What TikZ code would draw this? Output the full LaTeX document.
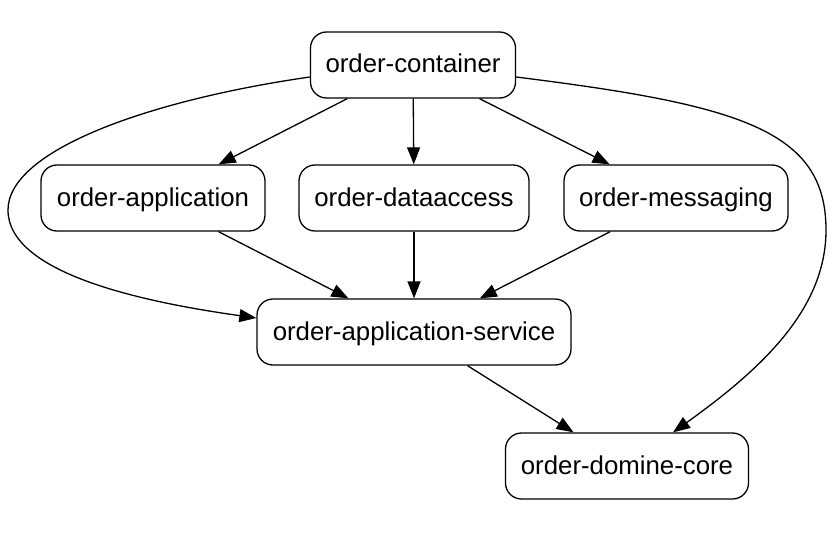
\documentclass[tikz,border=0pt]{standalone}
\usepackage{fontspec}
\setmainfont{Liberation Sans}
\usetikzlibrary{arrows.meta,calc}
\tikzset{
  box/.style={draw, line width=1.3pt, rounded corners=16pt, minimum height=66pt, inner sep=0pt, text height=19.5pt, text depth=3.5pt, font=\fontsize{25.8}{30}\selectfont},
  edge/.style={draw, line width=1.3pt, -{Triangle[length=17pt,width=13pt]}}
}
\begin{document}
\begin{tikzpicture}[x=1pt,y=-1pt]
\useasboundingbox (0,0) rectangle (834,532);
\node[box, minimum width=205pt] (c) at (413,65) {order-container};
\node[box, minimum width=224pt] (app) at (153,198) {order-application};
\node[box, minimum width=230pt] (da) at (414,198) {order-dataaccess};
\node[box, minimum width=224pt] (msg) at (676,198) {order-messaging};
\node[box, minimum width=314pt] (svc) at (414,332) {order-application-service};
\node[box, minimum width=243pt] (core) at (627,466) {order-domine-core};
\draw[edge] (c) -- (app);
\draw[edge] (c) -- (da);
\draw[edge] (c) -- (msg);
\draw[edge] (app) -- (svc);
\draw[edge] (da) -- (svc);
\draw[edge] (msg) -- (svc);
\draw[edge] (svc) -- (core);
\draw[edge] ($(c.west)+(0,12)$) .. controls (150,100) and (8,150) .. (8,210) .. controls (8,275) and (150,303) .. ($(svc.west)+(0,-14)$);
\draw[edge] ($(c.east)+(0,12)$) .. controls (740,105) and (826,130) .. (826,230) .. controls (826,310) and (760,370) .. ($(core.north)+(46,0)$);
\end{tikzpicture}
\end{document}
